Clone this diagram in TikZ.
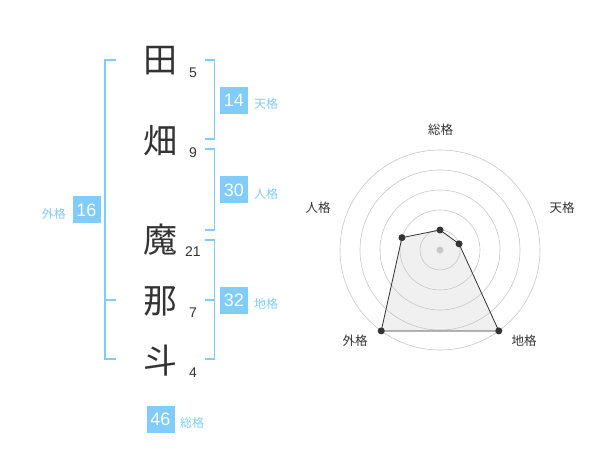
\documentclass[tikz,border=0pt]{standalone}
\usepackage{fontspec}
\setmainfont{Liberation Sans}
\newfontfamily\jp{Noto Sans CJK JP}
\definecolor{kakuBlue}{HTML}{80CCFA}
\definecolor{inkGray}{HTML}{333333}
\tikzset{>=latex,every node/.style={inner sep=0pt},
  kanji/.style={font=\jp\fontsize{34}{34}\selectfont,text=inkGray},
  strokes/.style={font=\fontsize{14}{14}\selectfont,text=inkGray},
  kaku/.style={fill=kakuBlue,text=white,minimum width=28,minimum height=27,font=\fontsize{18}{18}\selectfont},
  kakulabel/.style={font=\jp\fontsize{12}{12}\selectfont,text=kakuBlue},
  bracket/.style={draw=kakuBlue,line width=1.6pt},
  ring/.style={draw=black!22,line width=0.6pt},
  axislabel/.style={font=\jp\fontsize{12.5}{12.5}\selectfont,text=inkGray},
  dot/.style={circle,fill=inkGray,minimum size=7}}

\begin{document}
\begin{tikzpicture}[x=1pt,y=-1pt]
    \useasboundingbox (0,0) rectangle (600,470);
    \foreach \y/\c/\s/\k in {61/田/5/1,141/畑/9/2,240/魔/21/3,301/那/7/4,361/斗/4/5}{
         \node[kanji] (char\k) at (160,\y) {\c};
         \node[strokes] (num\k) at (193,\y+12) {\s};
    }
    \draw[bracket] (116,60) -- (105,60) -- (105,359) -- (116,359) (105,300) -- (116,300);
    \draw[bracket] (205,60) -- (214.5,60) -- (214.5,139) -- (205,139);
    \draw[bracket] (205,149) -- (214.5,149) -- (214.5,230) -- (205,230);
    \draw[bracket] (205,240) -- (214.5,240) -- (214.5,359) -- (205,359) (205,300) -- (214.5,300);
    \foreach \x/\y/\v/\n in {234/100.5/14/ten,234/190/30/jin,234/300.5/32/chi,160.5/419/46/sou}{
         \node[kaku] (box\n) at (\x,\y) {\v};
    }
    \node[kaku] (boxgai) at (86.5,210) {16};
    \node[kakulabel,anchor=west] at (254,104) {天格};
    \node[kakulabel,anchor=west] at (254,194) {人格};
    \node[kakulabel,anchor=west] at (254,304) {地格};
    \node[kakulabel,anchor=west] at (180,423) {総格};
    \node[kakulabel,anchor=east] at (66,214) {外格};
    \foreach \a/\r/\n in {90/20/sou,18/20/ten,-54/100/chi,-126/100/gai,162/40/jin}{
         \coordinate (p\n) at ({440+\r*cos(\a)},{250-\r*sin(\a)});
    }
    \fill[black!6] (psou) -- (pten) -- (pchi) -- (pgai) -- (pjin) -- cycle;
    \foreach \r in {20,40,60,80,100}{
         \draw[ring] (440,250) circle[radius=\r pt];
    }
    \draw[inkGray,line width=0.8pt] (psou) -- (pten) -- (pchi) -- (pgai) -- (pjin) -- cycle;
    \foreach \n in {sou,ten,chi,gai,jin}{
         \node[dot] (dot\n) at (p\n) {};
    }
    \node[circle,fill=black!22,minimum size=7] (hub) at (440,250) {};
    \node[axislabel] (axsou) at (440.5,130) {総格};
    \node[axislabel] (axten) at (562,208) {天格};
    \node[axislabel] (axchi) at (524,341) {地格};
    \node[axislabel] (axgai) at (355,341) {外格};
    \node[axislabel] (axjin) at (318,208) {人格};
\end{tikzpicture}
\end{document}
